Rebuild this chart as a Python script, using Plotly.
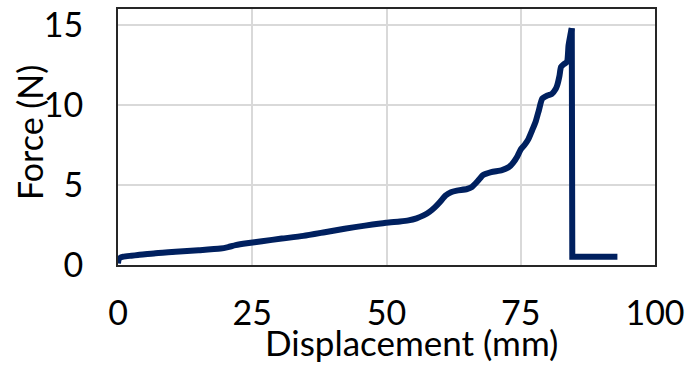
import plotly.graph_objects as go

# Loading part of the force-displacement curve (up to the peak)
displacement_mm = [0.0, 0.2, 1.0, 2.5, 3.7, 7.0, 10.7, 15.0, 19.1, 20.5, 21.9, 24.0, 26.8, 30.5,
                   34.5, 38.5, 42.2, 46.0, 49.9, 52.5, 54.1, 55.6, 56.9, 58.0, 59.0, 60.0,
                   61.0, 62.0, 63.1, 65.0, 65.9, 67.0, 68.0, 69.5, 71.5, 72.8, 73.6, 74.3,
                   75.0, 75.7, 76.4, 77.1, 77.8, 78.4, 79.0, 80.0, 80.8, 81.5, 81.8, 82.2,
                   82.5, 83.0, 83.6, 83.9, 84.2, 84.5]
force_n = [0.1, 0.4, 0.52, 0.58, 0.62, 0.74, 0.83, 0.92, 1.03, 1.12, 1.24, 1.36, 1.49, 1.65,
           1.82, 2.05, 2.27, 2.46, 2.64, 2.72, 2.79, 2.92, 3.1, 3.32, 3.6, 3.95,
           4.34, 4.55, 4.65, 4.75, 4.88, 5.25, 5.62, 5.8, 5.93, 6.12, 6.4, 6.75,
           7.23, 7.5, 7.85, 8.4, 8.99, 9.7, 10.4, 10.6, 10.7, 11.0, 11.24, 11.8,
           12.38, 12.55, 12.69, 13.72, 14.3, 14.8]

# Failure: sudden drop after the peak, then the residual plateau
failure_mm = [84.5, 84.6, 93.0]
failure_n = [14.8, 0.52, 0.52]

x_ticks = [0, 25, 50, 75, 100]
y_ticks = [0, 5, 10, 15]

FONT = "Lato"
TEXT_SIZE = 34
FRAME = "#262626"
GRID = "#d9d9d9"
LINE = "#00205f"

fig = go.Figure()
fig.add_trace(go.Scatter(
    x=displacement_mm, y=force_n, mode="lines",
    line=dict(color=LINE, width=6, shape="spline", smoothing=0.6),
    showlegend=False, hoverinfo="skip", cliponaxis=False,
))
fig.add_trace(go.Scatter(
    x=failure_mm, y=failure_n, mode="lines",
    line=dict(color=LINE, width=6),
    showlegend=False, hoverinfo="skip",
))

axis_common = dict(
    showline=True, linecolor=FRAME, linewidth=2, mirror=True,
    showgrid=True, gridcolor=GRID, gridwidth=1.5,
    zeroline=False, ticks="", automargin=False,
    tickfont=dict(family=FONT, size=TEXT_SIZE, color="black"),
)

fig.update_xaxes(range=[0, 100], tickvals=x_ticks, ticklabelstandoff=17, **axis_common)
fig.update_yaxes(range=[0, 16], tickvals=y_ticks, ticklabelstandoff=26, **axis_common)

fig.add_annotation(
    text="Displacement (mm)", xref="paper", yref="paper",
    x=(411 - 118) / (655 - 118), y=-(365 - 265) / (265 - 9),
    xanchor="center", yanchor="bottom", showarrow=False,
    font=dict(family=FONT, size=35, color="black"),
)
fig.add_annotation(
    text="Force (N)", xref="paper", yref="paper",
    x=-(118 - 29) / (655 - 118), y=(265 - 133) / (265 - 9),
    xanchor="center", yanchor="middle", textangle=-90, showarrow=False,
    font=dict(family=FONT, size=TEXT_SIZE, color="black"),
)

fig.update_layout(
    width=689, height=365,
    margin=dict(l=118, r=34, t=9, b=100, autoexpand=False),
    paper_bgcolor="white", plot_bgcolor="white",
)

fig.write_html("out.html")
